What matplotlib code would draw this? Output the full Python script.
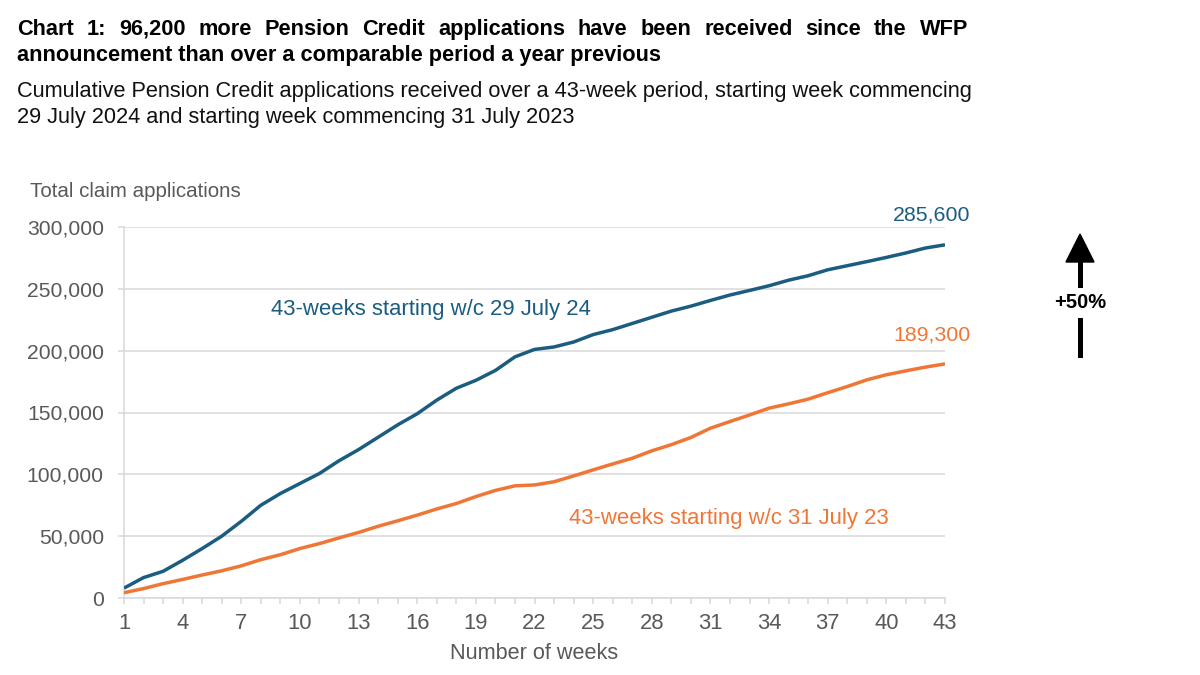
import numpy as np
import matplotlib
matplotlib.use("Agg")
import matplotlib.pyplot as plt
from matplotlib.ticker import FuncFormatter, MultipleLocator

plt.rcParams['font.family'] = ['Liberation Sans', 'DejaVu Sans']

# Data (cumulative applications per week)
weeks = np.arange(1, 44)
apps_2024 = [8000, 16500, 21600, 30500, 40000, 50000, 62000, 75000, 84500, 92600,
             100700, 111000, 120000, 130000, 140000, 149000, 160000, 169600, 176000, 184000,
             195000, 201000, 203000, 207000, 213000, 217000, 222000, 227000, 232000, 236000,
             240600, 245000, 248700, 252500, 257000, 260600, 265400, 268700, 272000, 275400,
             279000, 283000, 285600]
apps_2023 = [4300, 7600, 11600, 15000, 18600, 22000, 26000, 31000, 35000, 40000,
             44000, 48600, 53000, 58000, 62400, 67000, 72000, 76400, 82000, 87000,
             90700, 91400, 94000, 98700, 103600, 108400, 113000, 119000, 124000, 129800,
             137300, 142700, 148000, 153500, 157000, 160800, 166000, 171000, 176400, 180500,
             183700, 186700, 189300]
label_2024 = "43-weeks starting w/c 29 July 24"
label_2023 = "43-weeks starting w/c 31 July 23"
end_2024 = "285,600"
end_2023 = "189,300"

title_lines = ["Chart 1: 96,200 more Pension Credit applications have been received since the WFP",
               "announcement than over a comparable period a year previous"]
subtitle_lines = ["Cumulative Pension Credit applications received over a 43-week period, starting week commencing",
                  "29 July 2024 and starting week commencing 31 July 2023"]

blue = "#1b5d80"
orange = "#f07636"
grey_txt = "#595959"
grid_c = "#d9d9d9"

fig = plt.figure(figsize=(12, 6.75), dpi=100)
W, H = 1200, 675


def fx(px):
    return px / W


def fy(py):
    return 1 - py / H


def justified(text, x0, x1, y, **kw):
    # place words so the line spans exactly x0..x1 (pixels)
    words = text.split()
    r = fig.canvas.get_renderer()
    objs = [fig.text(0, fy(y), w, va="baseline", **kw) for w in words]
    widths = [o.get_window_extent(r).width for o in objs]
    gap = (x1 - x0 - sum(widths)) / (len(words) - 1)
    x = x0
    for o, w in zip(objs, widths):
        o.set_x(fx(x))
        x += w + gap


# title + subtitle
justified(title_lines[0], 17, 968, 35, fontsize=15.7, fontweight="bold", color="black")
fig.text(fx(17), fy(61), title_lines[1], fontsize=15.7, fontweight="bold", va="baseline")
fig.text(fx(17), fy(97), subtitle_lines[0], fontsize=15.7, va="baseline", color="#111111")
fig.text(fx(17), fy(123), subtitle_lines[1], fontsize=15.7, va="baseline", color="#111111")

ax = fig.add_axes([fx(124), fy(598), fx(945) - fx(124), fy(227) - fy(598)])
ax.plot(weeks, apps_2024, color=blue, lw=2.5, solid_capstyle="butt", zorder=3)
ax.plot(weeks, apps_2023, color=orange, lw=2.5, solid_capstyle="butt", zorder=3)

ax.set_xlim(1, 43)
ax.set_ylim(0, 300000)
ax.set_yticks(np.arange(0, 300001, 50000))
ax.yaxis.set_major_formatter(FuncFormatter(lambda v, p: f"{int(v):,}"))
ax.set_xticks(np.arange(1, 44, 3))
ax.xaxis.set_minor_locator(MultipleLocator(1))
ax.grid(axis="y", color=grid_c, lw=1.1)
ax.set_axisbelow(True)
for s in ["top", "right"]:
    ax.spines[s].set_visible(False)
ax.spines["left"].set_color(grid_c)
ax.spines["bottom"].set_color(grid_c)
ax.spines["left"].set_linewidth(1.1)
ax.spines["bottom"].set_linewidth(1.1)
ax.tick_params(axis="y", length=4.5, width=1.1, color=grid_c, labelsize=15.2,
               labelcolor=grey_txt, pad=10)
ax.tick_params(axis="x", which="both", length=4.5, width=1.1, color=grid_c, labelsize=15.8,
               labelcolor=grey_txt, pad=6)
ax.set_xlabel("Number of weeks", fontsize=15.6, color=grey_txt, labelpad=7)

fig.text(fx(30), fy(197), "Total claim applications", fontsize=14.8, color=grey_txt,
         va="baseline")

# series labels
ax.text(8.52, 233000, label_2024, color=blue, fontsize=15.9, ha="left", va="center")
ax.text(23.76, 64500, label_2023, color=orange, fontsize=15.9, ha="left", va="center")
ax.text(44.3, 302000, end_2024, color=blue, fontsize=15.4, ha="right", va="bottom", clip_on=False)
ax.text(44.3, 205000, end_2023, color=orange, fontsize=15.4, ha="right", va="bottom", clip_on=False)

# +50% arrow
fig.add_artist(plt.Line2D([fx(1080), fx(1080)], [fy(355), fy(320)], color="black", lw=3.6))
fig.add_artist(plt.Line2D([fx(1080), fx(1080)], [fy(285), fy(258)], color="black", lw=3.6))
fig.add_artist(plt.Polygon([[fx(1066), fy(262)], [fx(1094), fy(262)], [fx(1080), fy(234)]],
                           closed=True, color="black"))
fig.text(fx(1080), fy(302), "+50%", fontsize=14.5, fontweight="bold", ha="center", va="center")

fig.savefig("out.png", dpi=100)
